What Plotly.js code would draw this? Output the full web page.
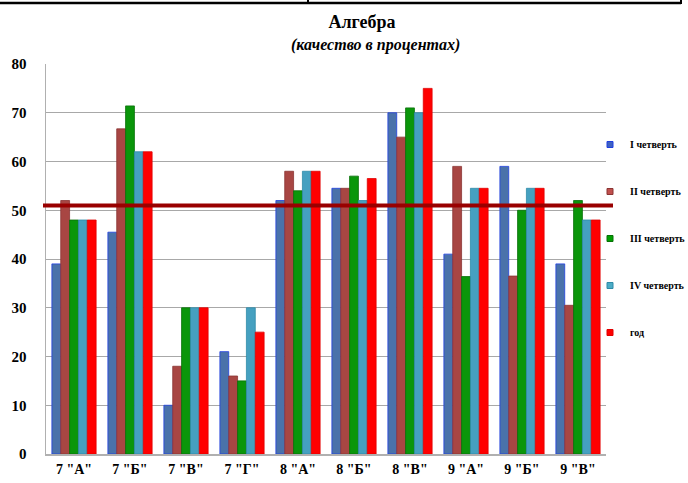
<!DOCTYPE html>
<html>
<head>
<meta charset="utf-8">
<script src="https://cdn.plot.ly/plotly-3.0.1.min.js"></script>
<style>html,body{margin:0;padding:0;background:#fff;}#chart{width:688px;height:483px;}</style>
</head>
<body>
<div id="chart"></div>
<script>
const categories = ['7 "А"', '7 "Б"', '7 "В"', '7 "Г"', '8 "А"', '8 "Б"', '8 "В"', '9 "А"', '9 "Б"', '9 "В"'];
const seriesNames = ['I четверть', 'II четверть', 'III четверть', 'IV четверть', 'год'];
const q1 = [39, 45.5, 10, 21, 52, 54.5, 70, 41, 59, 39];
const q2 = [52, 66.7, 18, 16, 58, 54.5, 65, 59, 36.5, 30.5];
const q3 = [48, 71.4, 30, 15, 54, 57, 71, 36.4, 50, 52];
const q4 = [48, 62, 30, 30, 58, 52, 70, 54.5, 54.5, 48];
const year = [48, 62, 30, 25, 58, 56.5, 75, 54.5, 54.5, 48];
const threshold = 51;
const yTicks = [0, 10, 20, 30, 40, 50, 60, 70, 80];

const seriesValues = [q1, q2, q3, q4, year];
const fillColors = ['#4a72aa', '#a84643', '#0a960a', '#45a0c0', '#ff0000'];
const edgeColors = ['#1f3fe0', '#8a3533', '#076f07', '#2f8aa8', '#e00000'];
const legendColors = ['#3f62c0', '#c0504d', '#00a000', '#4bacc6', '#ff0000'];

const serif = 'Liberation Serif';

const traces = [];
seriesValues.forEach((vals, i) => {
  traces.push({
    type: 'bar', x: categories, y: vals, name: seriesNames[i],
    marker: {color: fillColors[i], line: {color: edgeColors[i], width: 0.8}},
    showlegend: false, hoverinfo: 'x+y+name'
  });
});
seriesValues.forEach((vals, i) => {
  traces.push({
    type: 'scatter', mode: 'markers', x: [null], y: [null], name: seriesNames[i],
    legendgroup: 'g' + i,
    marker: {symbol: 'square', size: 6, color: legendColors[i], line: {color: edgeColors[i], width: 1}},
    hoverinfo: 'skip'
  });
});

const L = 46, R = 606, T = 64, B = 454;
const px = v => (v - L) / (R - L);
const py = v => (B - v) / (B - T);

const layout = {
  width: 688, height: 483,
  margin: {l: L, r: 688 - R, t: T, b: 483 - B, autoexpand: false},
  paper_bgcolor: '#fff', plot_bgcolor: '#fff',
  barmode: 'group', bargap: 0.21, bargroupgap: 0,
  font: {family: serif, color: '#000'},
  title: {text: 'Алгебра', font: {family: serif, size: 18, color: '#000', weight: 'bold'},
          x: 362 / 688, xanchor: 'center', y: 1 - 22 / 483, yanchor: 'middle'},
  annotations: [{
    text: '(качество в процентах)', xref: 'paper', yref: 'paper',
    x: px(375), y: py(45), xanchor: 'center', yanchor: 'middle', showarrow: false,
    font: {family: serif, size: 16, color: '#000', weight: 'bold', style: 'italic'}
  }],
  xaxis: {
    type: 'category', showgrid: false, zeroline: false,
    showline: true, linecolor: '#b0b0b0', linewidth: 1.5,
    ticks: '', tickfont: {family: serif, size: 14, color: '#000', weight: 'bold'},
    ticklabelstandoff: 2
  },
  yaxis: {
    range: [0, 80], tickvals: yTicks, ticktext: yTicks.map(String),
    showgrid: true, gridcolor: '#a8a8a8', gridwidth: 1,
    zeroline: false, showline: true, linecolor: '#b0b0b0', linewidth: 1.5,
    ticks: '', tickfont: {family: serif, size: 15, color: '#000', weight: 'bold'},
    ticklabelstandoff: 15
  },
  legend: {
    x: px(590), y: py(130), xanchor: 'left', yanchor: 'top',
    font: {family: serif, size: 10, color: '#000', weight: 'bold'},
    traceorder: 'grouped', tracegroupgap: 28,
    itemwidth: 30, bgcolor: 'rgba(0,0,0,0)'
  },
  shapes: [
    {type: 'line', xref: 'paper', yref: 'y', x0: px(43), x1: px(613), y0: threshold, y1: threshold,
     line: {color: '#990000', width: 4}},
    {type: 'line', xref: 'paper', yref: 'paper', x0: px(0), x1: px(681), y0: py(3), y1: py(3),
     line: {color: '#000', width: 2.5}},
    {type: 'line', xref: 'paper', yref: 'paper', x0: px(681), x1: px(681), y0: py(0), y1: py(4),
     line: {color: '#000', width: 2}},
    {type: 'line', xref: 'paper', yref: 'paper', x0: px(308), x1: px(308), y0: py(0), y1: py(4),
     line: {color: '#000', width: 2}}
  ]
};

Plotly.newPlot('chart', traces, layout, {displayModeBar: false, staticPlot: true});
</script>
</body>
</html>
